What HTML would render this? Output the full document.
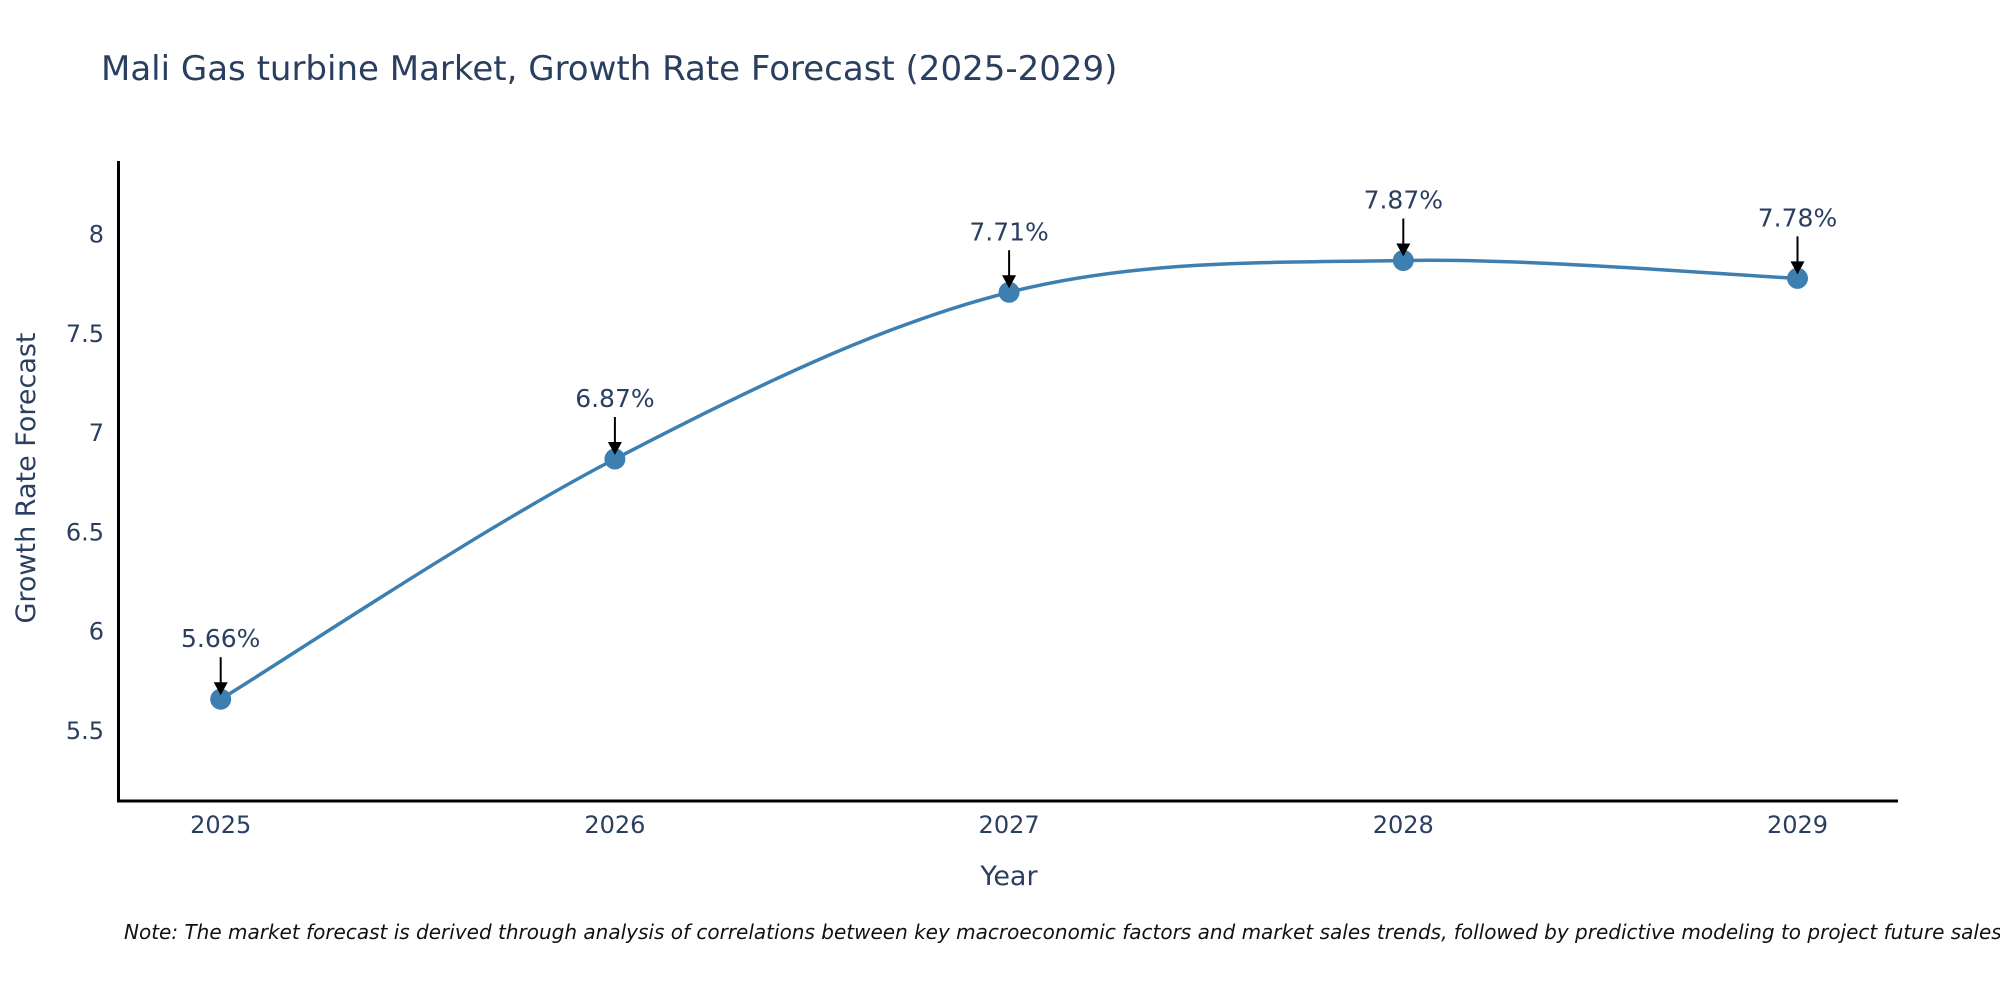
<!DOCTYPE html>
<html><head><meta charset="utf-8"><style>
body{margin:0;background:#fff;overflow:hidden}
svg text{font-family:"DejaVu Sans","Liberation Sans",sans-serif;fill:#2a3f5f}
</style></head><body>
<svg id="chart" width="2000" height="1000" xmlns="http://www.w3.org/2000/svg">
<text x="101" y="80" font-size="34">Mali Gas turbine Market, Growth Rate Forecast (2025-2029)</text>
<g id="axes"></g>
<path id="line" fill="none" stroke="#3d7fb0" stroke-width="3.5"/>
<g id="marks"></g>
<text x="1009" y="885" font-size="27" text-anchor="middle">Year</text>
<text transform="translate(35,478) rotate(-90)" font-size="27" text-anchor="middle">Growth Rate Forecast</text>
<text x="124" y="939" font-size="20" font-style="italic" style="fill:#111">Note: The market forecast is derived through analysis of correlations between key macroeconomic factors and market sales trends, followed by predictive modeling to project future sales.</text>
</svg>
<script>
const years=[2025,2026,2027,2028,2029];
const values=[5.66,6.87,7.71,7.87,7.78];
const labels=["5.66%","6.87%","7.71%","7.87%","7.78%"];
const yTicks=[5.5,6,6.5,7,7.5,8];
const NS="http://www.w3.org/2000/svg";
const X=v=>220.7+(v-2025)*394.2;
const Y=v=>234.7+(8-v)*198.5;
const axes=document.getElementById('axes');
function mk(tag,attrs,parent){const e=document.createElementNS(NS,tag);for(const k in attrs)e.setAttribute(k,attrs[k]);parent.appendChild(e);return e;}
let yl=mk('line',{x1:118.5,y1:161,x2:118.5,y2:802,stroke:'#000','stroke-width':3},axes);


let xl=mk('line',{x1:117,y1:801,x2:1898,y2:801,stroke:'#000','stroke-width':3},axes);


yTicks.forEach(t=>{const e=mk('text',{x:104,y:Y(t)+8,'font-size':24,'text-anchor':'end'},axes);e.textContent=String(t);

});
years.forEach(t=>{const e=mk('text',{x:X(t),y:833,'font-size':24,'text-anchor':'middle'},axes);e.textContent=String(t);

});
const pts=years.map((y,i)=>[X(y),Y(values[i])]);
let d=`M${pts[0][0]},${pts[0][1]}`;
const s=0.5/3*2;
for(let i=0;i<pts.length-1;i++){const p0=pts[Math.max(0,i-1)],p1=pts[i],p2=pts[i+1],p3=pts[Math.min(pts.length-1,i+2)];
const c1=[p1[0]+(p2[0]-p0[0])*s/2,p1[1]+(p2[1]-p0[1])*s/2];
const c2=[p2[0]-(p3[0]-p1[0])*s/2,p2[1]-(p3[1]-p1[1])*s/2];
d+=` C${c1[0]},${c1[1]} ${c2[0]},${c2[1]} ${p2[0]},${p2[1]}`;}
document.getElementById('line').setAttribute('d',d);
const marks=document.getElementById('marks');
pts.forEach((p,i)=>{
const c=mk('circle',{cx:p[0],cy:p[1],r:10.5,fill:'#3d7fb0'},marks);


const a=mk('line',{x1:p[0],y1:p[1]-42,x2:p[0],y2:p[1]-14,stroke:'#000','stroke-width':2},marks);


const h=mk('polygon',{points:`${p[0]-7},${p[1]-17} ${p[0]+7},${p[1]-17} ${p[0]},${p[1]-4}`,fill:'#000'},marks);


const t=mk('text',{x:p[0],y:p[1]-52,'font-size':25,'text-anchor':'middle'},marks);t.textContent=labels[i];


});
</script>
</body></html>
